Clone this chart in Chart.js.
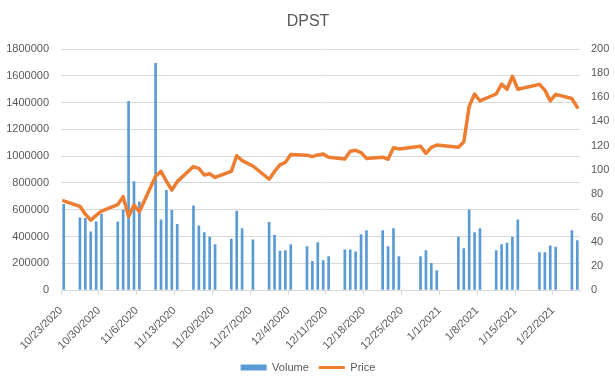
<!DOCTYPE html>
<html>
<head>
<meta charset="utf-8">
<script src="https://cdn.jsdelivr.net/npm/chart.js@4/dist/chart.umd.min.js"></script>
<style>
  html, body { margin: 0; padding: 0; background: #ffffff; }
  #wrap { width: 615px; height: 388px; }
</style>
</head>
<body>
<div id="wrap"><canvas id="c" width="615" height="388"></canvas></div>
<script>
// ---- Data ----
const tradingDays = [
  '2020-10-23',
  '2020-10-26','2020-10-27','2020-10-28','2020-10-29','2020-10-30',
  '2020-11-02','2020-11-03','2020-11-04','2020-11-05','2020-11-06',
  '2020-11-09','2020-11-10','2020-11-11','2020-11-12','2020-11-13',
  '2020-11-16','2020-11-17','2020-11-18','2020-11-19','2020-11-20',
  '2020-11-23','2020-11-24','2020-11-25','2020-11-27',
  '2020-11-30','2020-12-01','2020-12-02','2020-12-03','2020-12-04',
  '2020-12-07','2020-12-08','2020-12-09','2020-12-10','2020-12-11',
  '2020-12-14','2020-12-15','2020-12-16','2020-12-17','2020-12-18',
  '2020-12-21','2020-12-22','2020-12-23','2020-12-24',
  '2020-12-28','2020-12-29','2020-12-30','2020-12-31',
  '2021-01-04','2021-01-05','2021-01-06','2021-01-07','2021-01-08',
  '2021-01-11','2021-01-12','2021-01-13','2021-01-14','2021-01-15',
  '2021-01-19','2021-01-20','2021-01-21','2021-01-22',
  '2021-01-25','2021-01-26'
];

const volume = [
  640000,
  540000, 535000, 435000, 510000, 565000,
  510000, 600000, 1410000, 810000, 660000,
  1695000, 525000, 745000, 595000, 490000,
  630000, 480000, 430000, 395000, 340000,
  380000, 590000, 460000, 375000,
  505000, 410000, 290000, 295000, 340000,
  325000, 215000, 355000, 220000, 250000,
  300000, 300000, 285000, 415000, 445000,
  445000, 325000, 460000, 250000,
  250000, 295000, 200000, 145000,
  395000, 310000, 600000, 430000, 460000,
  295000, 340000, 350000, 395000, 525000,
  280000, 280000, 330000, 320000,
  445000, 370000
];

const price = [
  74,
  69.5, 63, 58, 62, 65.5,
  71, 77.5, 61, 70.5, 65,
  94.5, 98.5, 90.3, 83, 90,
  102.5, 101, 95.5, 96.5, 93.5,
  98.5, 111.5, 107.5, 103,
  92, 98.5, 104, 106, 112.5,
  112, 110.8, 112.2, 113, 110.3,
  108.8, 115.3, 116, 114.2, 109.3,
  110.3, 108.6, 118.2, 117.2,
  119.4, 113.5, 118.5, 120.4,
  118.6, 123, 152.5, 162.8, 157,
  162.8, 171, 166.7, 177.5, 166.7,
  170.8, 166, 157, 162.5,
  159, 151.7
];

const tickLabels = [
  '10/23/2020','10/30/2020','11/6/2020','11/13/2020','11/20/2020',
  '11/27/2020','12/4/2020','12/11/2020','12/18/2020','12/25/2020',
  '1/1/2021','1/8/2021','1/15/2021','1/22/2021'
];

// ---- Derived: calendar-day index of each trading day ----
const t0 = Date.parse(tradingDays[0]);
const dayIndex = tradingDays.map(d => Math.round((Date.parse(d) - t0) / 864e5));
const volumePoints = dayIndex.map((x, i) => ({ x, y: volume[i] }));
const pricePoints = dayIndex.map((x, i) => ({ x, y: price[i] }));

const BLUE = '#5B9BD5';
const ORANGE = '#ED7D31';
const TEXT = '#595959';
const GRID = '#d9d9d9';
const FONT = "'Liberation Sans', Arial, sans-serif";

new Chart(document.getElementById('c'), {
  type: 'bar',
  data: {
    datasets: [
      {
        type: 'bar',
        label: 'Volume',
        data: volumePoints,
        backgroundColor: BLUE,
        borderWidth: 0,
        barThickness: 2,
        yAxisID: 'y',
        order: 1
      },
      {
        type: 'line',
        label: 'Price',
        data: pricePoints,
        borderColor: ORANGE,
        backgroundColor: ORANGE,
        borderWidth: 3.5,
        borderJoinStyle: 'round',
        borderCapStyle: 'round',
        pointRadius: 0,
        tension: 0,
        fill: false,
        yAxisID: 'y1',
        order: 0
      }
    ]
  },
  options: {
    responsive: false,
    animation: false,
    devicePixelRatio: 1,
    layout: { padding: { left: 6, right: 5, top: 8, bottom: 5 } },
    font: { family: FONT },
    plugins: {
      title: {
        display: true,
        text: 'DPST',
        color: TEXT,
        font: { family: FONT, size: 16, weight: 'normal' },
        padding: { top: 4, bottom: 18 }
      },
      legend: {
        display: true,
        position: 'bottom',
        labels: {
          color: TEXT,
          font: { family: FONT, size: 11 },
          usePointStyle: true,
          pointStyleWidth: 26,
          boxHeight: 6,
          padding: 10,
          generateLabels: () => [
            { text: 'Volume', fillStyle: BLUE, strokeStyle: BLUE, lineWidth: 0, pointStyle: 'rect', fontColor: TEXT, datasetIndex: 0, hidden: false },
            { text: 'Price', fillStyle: ORANGE, strokeStyle: ORANGE, lineWidth: 3, pointStyle: 'line', fontColor: TEXT, datasetIndex: 1, hidden: false }
          ]
        }
      },
      tooltip: { enabled: false }
    },
    scales: {
      x: {
        type: 'linear',
        min: -0.5,
        max: 95.5,
        offset: false,
        afterBuildTicks: scale => {
          scale.ticks = tickLabels.map((_, i) => ({ value: i * 7 - 0.5 }));
        },
        afterFit: scale => {
          scale.height = 62;
          scale.paddingLeft = 0;
          scale.paddingRight = 0;
        },
        ticks: {
          autoSkip: false,
          minRotation: 45,
          maxRotation: 45,
          color: TEXT,
          font: { family: FONT, size: 11 },
          padding: 9,
          callback: (v, i) => tickLabels[i]
        },
        grid: {
          offset: false,
          drawOnChartArea: false,
          drawTicks: true,
          tickLength: 5,
          color: GRID
        },
        border: { display: true, color: GRID }
      },
      y: {
        position: 'left',
        min: 0,
        max: 1800000,
        afterFit: scale => { scale.width = 55; },
        ticks: {
          stepSize: 200000,
          color: TEXT,
          font: { family: FONT, size: 11 },
          padding: 12,
          callback: v => String(v)
        },
        grid: { color: GRID, drawTicks: false },
        border: { display: false }
      },
      y1: {
        position: 'right',
        min: 0,
        max: 200,
        afterFit: scale => { scale.width = 30; },
        ticks: {
          stepSize: 20,
          color: TEXT,
          font: { family: FONT, size: 11 },
          padding: 11,
          callback: v => String(v)
        },
        grid: { drawOnChartArea: false, drawTicks: false },
        border: { display: false }
      }
    }
  }
});
</script>
</body>
</html>
